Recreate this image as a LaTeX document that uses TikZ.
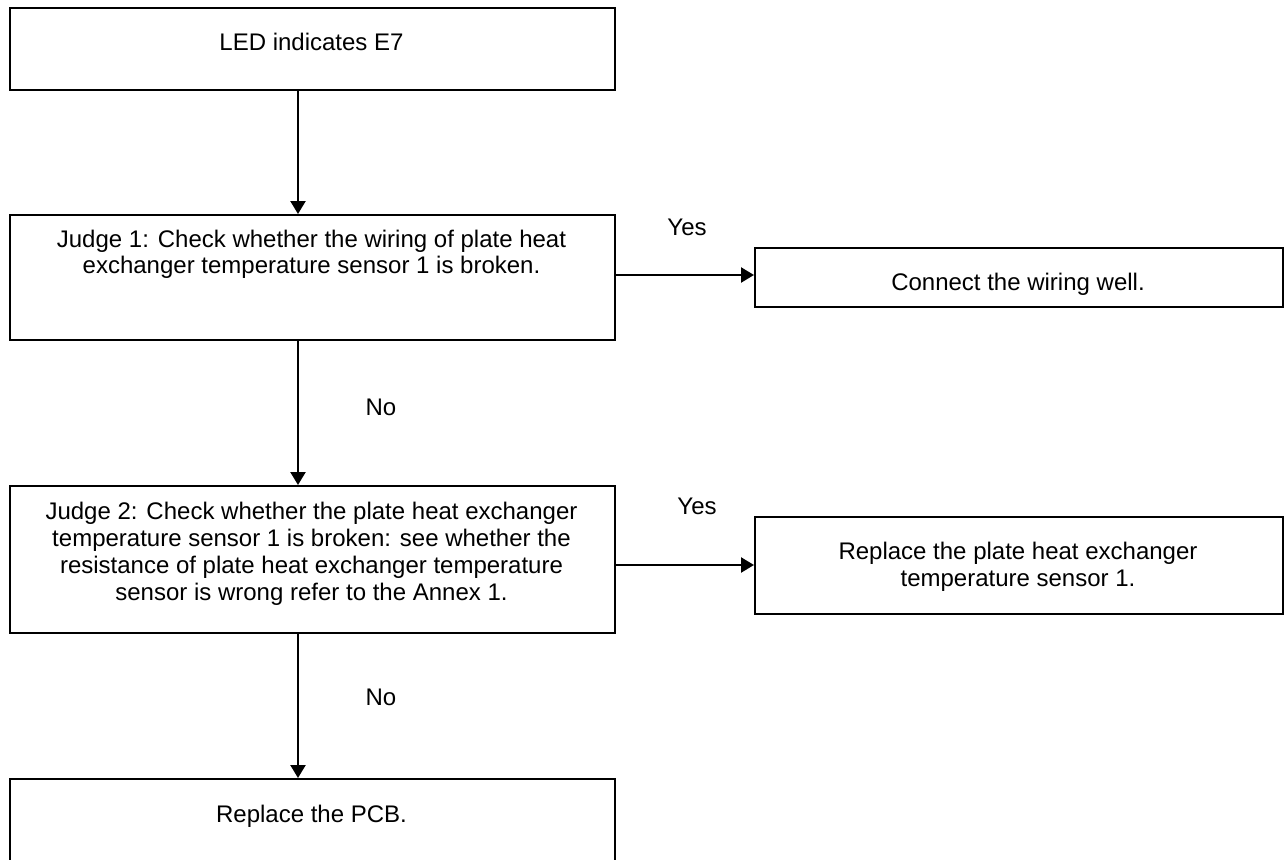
\documentclass[tikz,border=0pt]{standalone}
\usepackage{fontspec}
\setmainfont{Liberation Sans}
\usetikzlibrary{calc,arrows.meta}
\begin{document}
\begin{tikzpicture}[x=1pt,y=-1pt,
  box/.style={draw, line width=1.8pt, rectangle, inner sep=0pt, anchor=north west},
  txt/.style={font=\fontsize{24}{26.7}\selectfont, align=center, inner sep=0pt},
  flow/.style={line width=2.3pt, -{Triangle[length=13pt,width=15pt]}}]
\useasboundingbox (0,0) rectangle (1284,859);
\clip (0,0) rectangle (1284,859);

% main column
\node[box, minimum width=605pt, minimum height=82pt] (led) at (9,7) {};
\node[txt, anchor=base] (ledt) at (311.5,50.7) {LED indicates E7};

\node[box, minimum width=605pt, minimum height=125pt] (j1) at (9,214) {};
\node[txt] (j1t) at (311.5,254.3)
  {Judge 1: Check whether the wiring of plate heat\\exchanger temperature sensor 1 is broken.};

\node[box, minimum width=605pt, minimum height=147pt] (j2) at (9,485) {};
\node[txt] (j2t) at (311.5,553.8)
  {Judge 2: Check whether the plate heat exchanger\\temperature sensor 1 is broken: see whether the\\resistance of plate heat exchanger temperature\\sensor is wrong refer to the Annex 1.};

\node[box, minimum width=605pt, minimum height=110pt] (pcb) at (9,778) {};
\node[txt, anchor=base] (pcbt) at (311.5,822.7) {Replace the PCB.};

% right column
\node[box, minimum width=528pt, minimum height=59pt] (conn) at (754,247) {};
\node[txt, anchor=base] (connt) at (1018,290) {Connect the wiring well.};

\node[box, minimum width=528pt, minimum height=97pt] (rep) at (754,516) {};
\node[txt] (rept) at (1018,567)
  {Replace the plate heat exchanger\\temperature sensor 1.};

% connectors
\coordinate (a1) at (298,0);
\draw[flow] (led.south -| a1) -- (j1.north -| a1);
\draw[flow] (j1.south -| a1) -- (j2.north -| a1);
\draw[flow] (j2.south -| a1) -- (pcb.north -| a1);

\coordinate (y1) at (0,275);
\coordinate (y2) at (0,565);
\draw[flow] (j1.east |- y1) -- (conn.west |- y1);
\draw[flow] (j2.east |- y2) -- (rep.west |- y2);

% branch labels
\node[txt, anchor=base] (yes1) at (687,235.7) {Yes};
\node[txt, anchor=base] (yes2) at (697,514) {Yes};
\node[txt, anchor=base] (no1) at (381,415) {No};
\node[txt, anchor=base] (no2) at (381,705) {No};
\end{tikzpicture}
\end{document}
